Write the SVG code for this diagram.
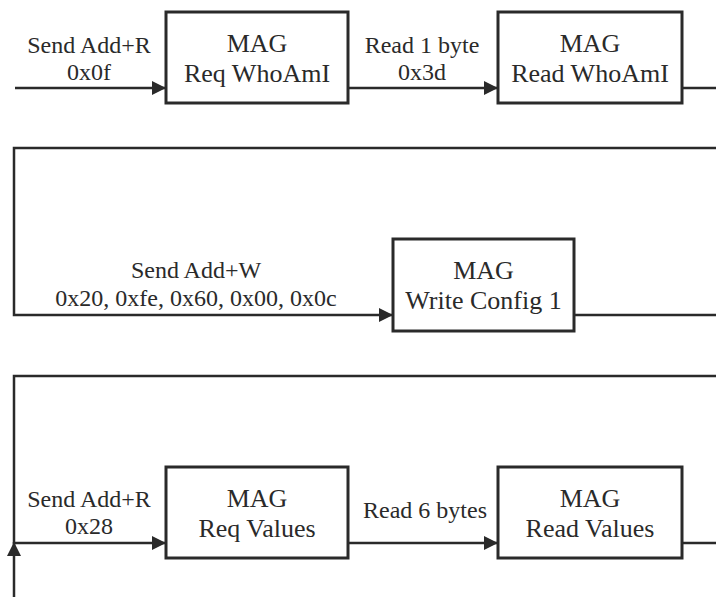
<svg xmlns="http://www.w3.org/2000/svg" width="716" height="597" viewBox="0 0 716 597" font-family="Liberation Serif, serif">
<style>
.box{fill:#fff;stroke:#2a2a2a;stroke-width:3}
.ln{fill:none;stroke:#2a2a2a;stroke-width:2.5}
.nt{font-size:26px;fill:#2a2a2a;text-anchor:middle}
.et{font-size:24px;fill:#2a2a2a;text-anchor:middle}
</style>
<defs>
<marker id="arr" markerUnits="userSpaceOnUse" markerWidth="15" markerHeight="15" viewBox="0 0 15 15" refX="14" refY="7.5" orient="auto">
<path d="M0,0.5 L14,7.5 L0,14.5 Z" fill="#2a2a2a"/>
</marker>
</defs>
<rect width="716" height="597" fill="#fff"/>
<g id="connectors">
<line class="ln" x1="15" y1="88" x2="166" y2="88" marker-end="url(#arr)"/>
<line class="ln" x1="348" y1="88" x2="498" y2="88" marker-end="url(#arr)"/>
<line class="ln" x1="682" y1="88" x2="716" y2="88"/>
<polyline class="ln" points="716,148 14,148 14,315 393,315" marker-end="url(#arr)"/>
<line class="ln" x1="574" y1="315" x2="716" y2="315"/>
<polyline class="ln" points="716,376 14,376 14,543 166,543" marker-end="url(#arr)"/>
<line class="ln" x1="14" y1="597" x2="14" y2="542" marker-end="url(#arr)"/>
<line class="ln" x1="348" y1="543" x2="498" y2="543" marker-end="url(#arr)"/>
<line class="ln" x1="682" y1="543" x2="716" y2="543"/>
<text class="et" x="89" y="53">Send Add+R</text>
<text class="et" x="89" y="80">0x0f</text>
<text class="et" x="422" y="53">Read 1 byte</text>
<text class="et" x="422" y="80">0x3d</text>
<text class="et" x="196" y="278">Send Add+W</text>
<text class="et" x="196" y="306">0x20, 0xfe, 0x60, 0x00, 0x0c</text>
<text class="et" x="89" y="507">Send Add+R</text>
<text class="et" x="89" y="534">0x28</text>
<text class="et" x="425" y="518">Read 6 bytes</text>
</g>
<g id="n1">
<rect class="box" x="166" y="12" width="182" height="91"/>
<text class="nt" x="257" y="52">MAG</text>
<text class="nt" x="257" y="82">Req WhoAmI</text>
</g>
<g id="n2">
<rect class="box" x="498" y="12" width="184" height="91"/>
<text class="nt" x="590" y="52">MAG</text>
<text class="nt" x="590" y="82">Read WhoAmI</text>
</g>
<g id="n3">
<rect class="box" x="393" y="239" width="181" height="92"/>
<text class="nt" x="483.5" y="279">MAG</text>
<text class="nt" x="483.5" y="309">Write Config 1</text>
</g>
<g id="n4">
<rect class="box" x="166" y="467" width="182" height="91"/>
<text class="nt" x="257" y="507">MAG</text>
<text class="nt" x="257" y="537">Req Values</text>
</g>
<g id="n5">
<rect class="box" x="498" y="467" width="184" height="91"/>
<text class="nt" x="590" y="507">MAG</text>
<text class="nt" x="590" y="537">Read Values</text>
</g>
</svg>
